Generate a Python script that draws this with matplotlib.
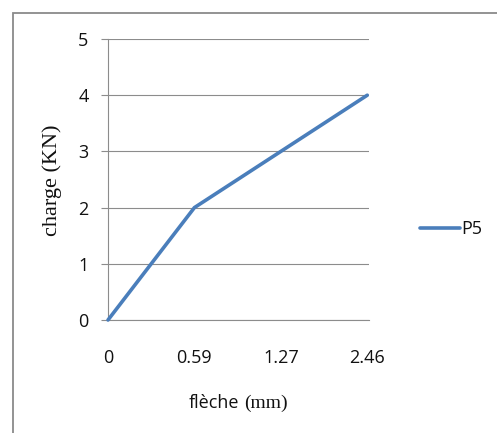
import matplotlib
matplotlib.use("Agg")
import matplotlib.pyplot as plt
from matplotlib.patches import Rectangle

categories = ["0", "0.59", "1.27", "2.46"]
charge = [0, 2, 3, 4]
series_name = "P5"
y_ticks = [0, 1, 2, 3, 4, 5]

W, H = 497, 433
fig = plt.figure(figsize=(W / 100, H / 100), dpi=100)
ax = fig.add_axes([108 / W, 1 - 320 / H, (369 - 108) / W, (320 - 39) / H])

x = list(range(len(categories)))
line_color = "#4A7EBB"
grid_color = "#8C8C8C"
ax.plot(x, charge, color=line_color, lw=2.6, solid_capstyle="round",
        solid_joinstyle="miter", label=series_name, zorder=3, clip_on=False)

ax.set_xlim(0, 3.02)
ax.set_ylim(0, 5)
ax.set_xticks(x)
ax.set_xticklabels(categories)
ax.set_yticks(y_ticks)
ax.yaxis.grid(True, color=grid_color, lw=0.8)
ax.set_axisbelow(True)
for s in ["top", "right"]:
    ax.spines[s].set_visible(False)
ax.spines["left"].set_color(grid_color)
ax.spines["left"].set_linewidth(0.8)
ax.spines["bottom"].set_color(grid_color)
ax.spines["bottom"].set_linewidth(0.8)

tick_font = "Open Sans"
ax.tick_params(axis="x", length=0, pad=21, labelsize=13, labelcolor="#111111")
ax.tick_params(axis="y", length=5, width=0.8, color=grid_color, pad=9,
               labelsize=13, labelcolor="#111111")
for lab in ax.get_xticklabels() + ax.get_yticklabels():
    lab.set_fontfamily(tick_font)

# axis titles
fig.text(52 / W, 1 - 180 / H, "charge (KN)", rotation=90, ha="center", va="center",
         fontsize=16, family="Liberation Serif", color="#111111")
fig.text(239 / W, 1 - 403 / H, "flèche", ha="right", va="center",
         fontsize=13, family="Open Sans", color="#111111")
fig.text(244 / W, 1 - 403 / H, "(mm)", ha="left", va="center",
         fontsize=14, family="Liberation Serif", color="#111111")

leg = fig.legend(loc="center left", bbox_to_anchor=(420 / W, 1 - 229 / H),
                 frameon=False, prop={"family": "Open Sans", "size": 13},
                 handlelength=2.2, handletextpad=0.1, borderpad=0, borderaxespad=0)
for t in leg.get_texts():
    t.set_color("#111111")

# outer chart border (only left and top visible)
fig.patches.append(Rectangle((13 / W, -0.1), 1.2, 1 - 13 / H + 0.1,
                             transform=fig.transFigure, fill=False,
                             edgecolor="#8a8a8a", lw=1.3))

fig.savefig("out.png", dpi=100)
